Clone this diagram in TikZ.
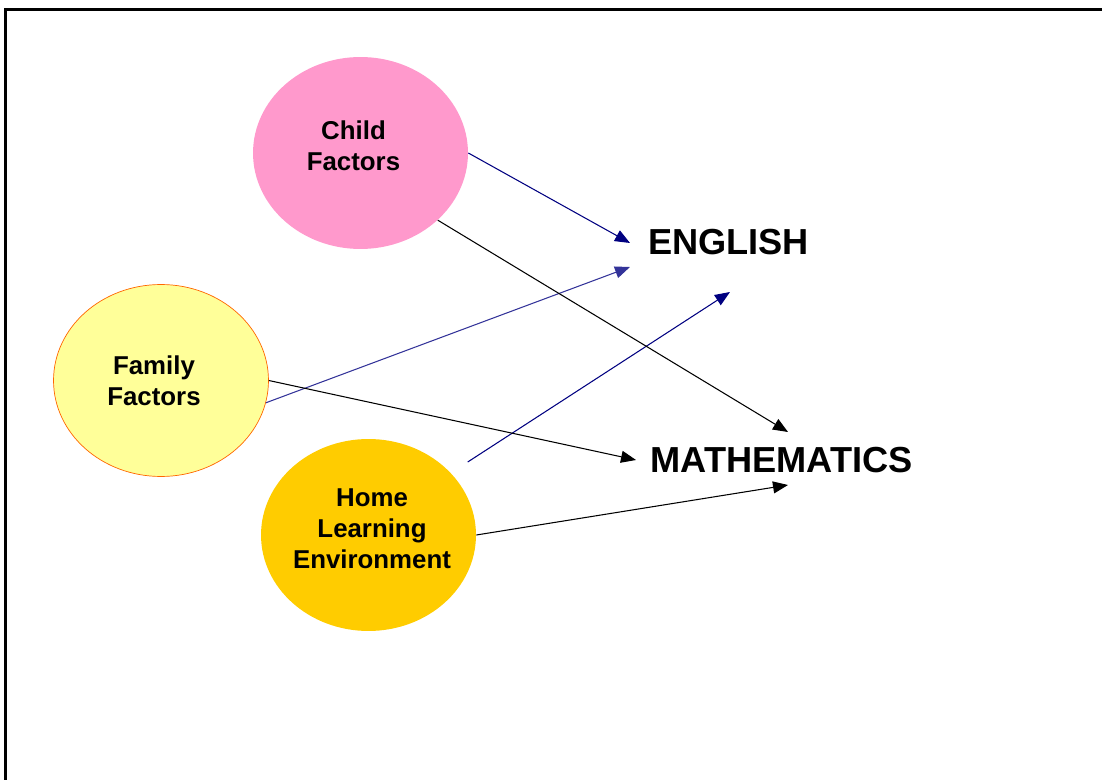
\documentclass[tikz,border=0pt]{standalone}
\usepackage{fontspec}
\setmainfont{Liberation Sans}
\usetikzlibrary{shapes.geometric,arrows.meta}
\definecolor{childpink}{HTML}{FF99CC}
\definecolor{familyyellow}{HTML}{FFFF99}
\definecolor{familyline}{HTML}{FF6600}
\definecolor{homegold}{HTML}{FFCC00}
\definecolor{darknavy}{HTML}{000080}
\definecolor{midblue}{HTML}{333399}
\begin{document}
\begin{tikzpicture}
  [x=0.02cm,y=-0.02cm,
   factor/.style={ellipse,minimum width=4.3cm,minimum height=3.84cm,inner sep=0pt},
   factortext/.style={align=center,inner sep=0pt,font=\bfseries\fontsize{14.7}{17.6}\selectfont},
   outcome/.style={font=\bfseries\fontsize{20.6}{24}\selectfont},
   link/.style={-{Triangle[length=0.3cm,width=0.24cm]},line width=0.6pt}]
  \useasboundingbox (0,0) rectangle (1102,780);
  \draw[line width=1.3pt] (5.5,9.5) rectangle (1120,800);

  % the three groups of factors
  \node[factor,fill=childpink] (child) at (360.5,153) {};
  \node[factor,fill=familyyellow,draw=familyline,line width=0.4pt] (family) at (161,380.5) {};
  \node[factor,fill=homegold] (home) at (368.5,535) {};
  \node[factortext] (childtext) at ([shift={(-7,-7.5)}]child.center) {Child\\Factors};
  \node[factortext] (familytext) at ([shift={(-7,0)}]family.center) {Family\\Factors};
  \node[factortext] (hometext) at ([shift={(3.5,-6.5)}]home.center) {Home\\Learning\\Environment};

  % outcomes
  \node[outcome] (english) at (728.5,242) {ENGLISH};
  \node[outcome] (maths) at (781.5,460) {MATHEMATICS};

  \coordinate (e1) at (630,243);
  \coordinate (e2) at (630,267);
  \coordinate (e3) at (730,292);
  \coordinate (m1) at (788,432);
  \coordinate (m2) at (636,460);
  \coordinate (m3) at (788,485);

  \draw[link,darknavy] (child.east) -- (e1);
  \draw[link,midblue] (family.-12) -- (e2);
  \draw[link,darknavy,shorten <=0.4cm] (home.37) -- (e3);

  \draw[link,black] (child.-41.6) -- (m1);
  \draw[link,black] (family.east) -- (m2);
  \draw[link,black] (home.east) -- (m3);
\end{tikzpicture}
\end{document}
